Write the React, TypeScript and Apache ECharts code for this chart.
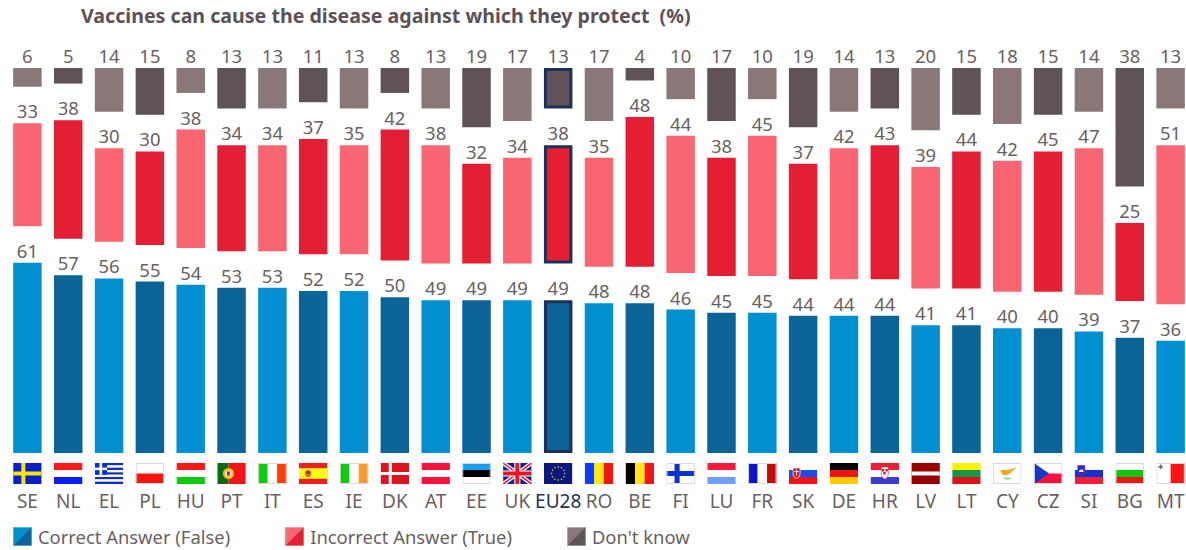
import React, { useEffect, useRef } from "react";
import * as echarts from "echarts";

const codes = ["SE","NL","EL","PL","HU","PT","IT","ES","IE","DK","AT","EE","UK","EU28","RO","BE","FI","LU","FR","SK","DE","HR","LV","LT","CY","CZ","SI","BG","MT"];
const correct = [61,57,56,55,54,53,53,52,52,50,49,49,49,49,48,48,46,45,45,44,44,44,41,41,40,40,39,37,36];
const incorrect = [33,38,30,30,38,34,34,37,35,42,38,32,34,38,35,48,44,38,45,37,42,43,39,44,42,45,47,25,51];
const dontKnow = [6,5,14,15,8,13,13,11,13,8,13,19,17,13,17,4,10,17,10,19,14,13,20,15,18,15,14,38,13];
const titleText = "Vaccines can cause the disease against which they protect  (%)";
const seriesNames = ["Correct Answer (False)", "Incorrect Answer (True)", "Don't know"];

const GAP = 11.75;
const TEXT = "#6b5f62";
const NAVY = "#1c3157";
const FONT = "Noto Sans";
const palette = {
  correct: ["#0090d1", "#0b6497"],
  incorrect: ["#f96570", "#e41f33"],
  dontKnow: ["#8a7878", "#5f5359"],
};

const svg = (body: string, w = 28, h = 21) =>
  "data:image/svg+xml;charset=utf-8," +
  encodeURIComponent(`<svg xmlns="http://www.w3.org/2000/svg" width="${w}" height="${h}" viewBox="0 0 ${w} ${h}" preserveAspectRatio="none">${body}</svg>`);
const rect = (x: number, y: number, w: number, h: number, c: string) => `<rect x="${x}" y="${y}" width="${w}" height="${h}" fill="${c}"/>`;
const edge = `<rect x="0.5" y="0.5" width="27" height="20" fill="none" stroke="#ddd8d8"/>`;
const h = (cs: string[], e = false) => svg(cs.map((c, i) => rect(0, (i * 21) / cs.length, 28, 21 / cs.length + 0.2, c)).join("") + (e ? edge : ""));
const v = (cs: string[], e = false) => svg(cs.map((c, i) => rect((i * 28) / cs.length, 0, 28 / cs.length + 0.2, 21, c)).join("") + (e ? edge : ""));

const greekStripes = ["#0d2fd0","#fff","#0d2fd0","#fff","#0d2fd0","#fff","#0d2fd0","#fff","#0d2fd0"];
const flags: Record<string, string> = {
  SE: svg(rect(0,0,28,21,"#0a1fc8") + rect(8,0,4,21,"#f5e60a") + rect(0,8.5,28,4,"#f5e60a")),
  NL: h(["#ff1a1a","#fff","#0d1ff0"]),
  EL: svg(greekStripes.map((c,i)=>rect(0,i*21/9,28,21/9+0.1,c)).join("") + rect(0,0,12,11.7,"#0d2fd0") + rect(4.6,0,2.6,11.7,"#fff") + rect(0,4.6,12,2.5,"#fff")),
  PL: h(["#fff","#ff1414"], true),
  HU: h(["#ff1a1a","#fff","#0ccc0c"]),
  PT: svg(rect(0,0,11,21,"#0a6a12") + rect(11,0,17,21,"#f01414") + `<circle cx="11" cy="10.5" r="5.5" fill="#e8c020"/><circle cx="11" cy="10.5" r="3" fill="#f4f4f4"/><rect x="9.5" y="8.5" width="3" height="4" fill="#c02020"/>`),
  IT: v(["#0ccc0c","#fff","#ff3c0a"], true),
  ES: svg(rect(0,0,28,21,"#f01e1e") + rect(0,5.2,28,10.6,"#ffff14") + `<ellipse cx="9" cy="10.5" rx="3.2" ry="3.8" fill="#d07a30"/><rect x="7.5" y="8" width="3" height="3" fill="#c02020"/>`),
  IE: v(["#0ccc0c","#fff","#ff9a32"], true),
  DK: svg(rect(0,0,28,21,"#e01420") + rect(8,0,3,21,"#fff") + rect(0,9,28,3,"#fff")),
  AT: h(["#ff0f3c","#fff","#ff0f3c"]),
  EE: h(["#14a0f0","#000","#fff"], true),
  UK: svg(rect(0,0,28,21,"#14208c") + `<path d="M0 0L28 21M28 0L0 21" stroke="#fff" stroke-width="4"/><path d="M0 0L28 21M28 0L0 21" stroke="#e8142c" stroke-width="1.5"/>` + rect(11,0,6,21,"#fff") + rect(0,7.5,28,6,"#fff") + rect(12,0,4,21,"#e8142c") + rect(0,8.5,28,4,"#e8142c")),
  EU28: svg(rect(0,0,28,21,"#0c1880") + Array.from({length:12},(_,i)=>`<circle cx="${14+6.5*Math.cos(i*Math.PI/6)}" cy="${10.5+6.5*Math.sin(i*Math.PI/6)}" r="0.75" fill="#f5e020"/>`).join("")),
  RO: v(["#0a3cff","#ffe614","#f01414"]),
  BE: v(["#000","#ffe614","#f01414"]),
  FI: svg(rect(0,0,28,21,"#fff") + rect(8,0,5,21,"#0a32d0") + rect(0,8,28,5,"#0a32d0") + edge),
  LU: h(["#ff1a3c","#fff","#6ea0ff"]),
  FR: v(["#0a14c8","#fff","#c80a0a"], true),
  SK: svg(h3(["#fff","#1450f0","#f01414"]) + `<path d="M4 5h7v6q0 3-3.5 4.5Q4 14 4 11z" fill="#e01414" stroke="#fff" stroke-width="0.7"/><rect x="7" y="6.5" width="1" height="6" fill="#fff"/><rect x="5.5" y="8" width="4" height="1" fill="#fff"/>`),
  DE: h(["#000","#f01414","#ffc800"]),
  HR: svg(h3(["#f01e32","#fff","#3c3cd2"]) + `<path d="M10.5 4h7v7q0 4-3.5 5-3.5-1-3.5-5z" fill="#fff" stroke="#d01e32" stroke-width="0.6"/><rect x="11" y="6" width="2.5" height="2.5" fill="#d01e32"/><rect x="14.5" y="6" width="2.5" height="2.5" fill="#d01e32"/><rect x="12.5" y="9" width="2.5" height="2.5" fill="#d01e32"/>`),
  LV: svg(rect(0,0,28,21,"#9a0000") + rect(0,8.5,28,4,"#fff")),
  LT: h(["#fff000","#14964c","#dc1414"]),
  CY: svg(rect(0,0,28,21,"#fff") + `<path d="M7 8q3-2 6-1 5 0 10-3-2 3-5 5-2 3-5 3-3 1-4-1-1-2-2-3z" fill="#f5a81e"/><path d="M9 14q5 5 10 0-5 2.5-10 0z" fill="#5ac85a"/>` + edge),
  CZ: svg(rect(0,0,28,10.5,"#fff") + rect(0,10.5,28,10.5,"#ff0f3c") + `<polygon points="0,0 15,10.5 0,21" fill="#0f3cc8"/>` + edge),
  SI: svg(h3(["#fff","#1432d2","#f01e3c"]) + `<path d="M3 2.5h7v5q0 3.5-3.5 5Q3 11 3 7.5z" fill="#1432d2" stroke="#e01e3c" stroke-width="0.6"/><path d="M4 9l1.5-3 1 1.5 1-1.5L9 9z" fill="#fff"/>`),
  BG: svg(h3(["#fff","#0cc80c","#f01414"]) + edge),
  MT: svg(rect(0,0,14,21,"#fff") + rect(14,0,14,21,"#ff1414") + `<rect x="2" y="3" width="4.5" height="1.6" fill="#7a7070"/><rect x="3.5" y="1.5" width="1.6" height="4.5" fill="#7a7070"/>` + edge),
};
function h3(cs: string[]) {
  return cs.map((c, i) => rect(0, i * 7, 28, 7.1, c)).join("");
}

const legendIcon = (pair: string[]) =>
  "image://" +
  svg(`<rect width="19" height="19" fill="${pair[1]}"/><polygon points="0,0 19,0 0,19" fill="${pair[0]}"/><rect x="0.5" y="0.5" width="18" height="18" fill="none" stroke="#fff" stroke-opacity="0.35"/>`, 19, 19);

const items = (vals: number[], pair: string[]) =>
  vals.map((value, i) => ({
    value,
    itemStyle:
      codes[i] === "EU28"
        ? { color: pair[1], borderColor: NAVY, borderWidth: 3 }
        : { color: pair[i % 2] },
  }));

const barBase = (name: string, vals: number[], pair: string[]) => ({
  name,
  type: "bar",
  stack: "total",
  barWidth: 28.5,
  data: items(vals, pair),
  itemStyle: { color: pair[0] },
  label: { show: true, position: "top", distance: 3, color: TEXT, fontSize: 18.5, fontFamily: FONT },
});

const spacer = (name: string) => ({
  name,
  type: "bar",
  stack: "total",
  barWidth: 28.5,
  silent: true,
  data: codes.map(() => GAP),
  itemStyle: { color: "transparent" },
});

export default function App() {
  const ref = useRef<HTMLDivElement>(null);
  useEffect(() => {
    const chart = echarts.init(ref.current!, null, { renderer: "svg" });
    chart.setOption({
      animation: false,
      textStyle: { fontFamily: FONT },
      title: {
        text: titleText,
        left: 81,
        top: 5,
        padding: 0,
        textStyle: { fontSize: 19.6, fontWeight: "bold", color: "#5d5158", fontFamily: FONT },
      },
      legend: {
        left: 13,
        top: 527,
        padding: 0,
        itemGap: 55,
        itemWidth: 19,
        itemHeight: 19,
        selectedMode: false,
        textStyle: { fontSize: 18.4, color: TEXT, fontFamily: FONT, padding: [0, 0, 0, 1] },
        data: [
          { name: seriesNames[0], icon: legendIcon(palette.correct) },
          { name: seriesNames[1], icon: legendIcon(palette.incorrect) },
          { name: seriesNames[2], icon: legendIcon(palette.dontKnow) },
        ],
      },
      grid: { left: 7, top: 68, width: 1184, height: 385, containLabel: false, outerBoundsMode: "none" },
      xAxis: {
        type: "category",
        data: codes,
        axisLine: { show: false },
        axisTick: { show: false },
        axisLabel: {
          interval: 0,
          margin: 38,
          fontSize: 19,
          fontFamily: FONT,
          color: (value: string) => (value === "EU28" ? NAVY : TEXT),
        },
      },
      yAxis: { type: "value", min: 0, max: 123.5, show: false, splitLine: { show: false } },
      series: [
        barBase(seriesNames[0], correct, palette.correct),
        spacer("gap-1"),
        barBase(seriesNames[1], incorrect, palette.incorrect),
        spacer("gap-2"),
        barBase(seriesNames[2], dontKnow, palette.dontKnow),
        {
          name: "flags",
          type: "custom",
          clip: false,
          silent: true,
          data: codes.map((c) => [c, 0]),
          encode: { x: 0, y: 1 },
          renderItem: (_p: any, api: any) => {
            const pt = api.coord([api.value(0), 0]);
            const code = codes[_p.dataIndex];
            return {
              type: "image",
              style: { image: flags[code], x: pt[0] - 14.25, y: pt[1] + 10, width: 28.5, height: 21 },
            };
          },
        },
      ],
    });
    return () => chart.dispose();
  }, []);
  return <div ref={ref} style={{ position: "fixed", left: 0, top: 0, width: 1186, height: 550, background: "#fff" }} />;
}
